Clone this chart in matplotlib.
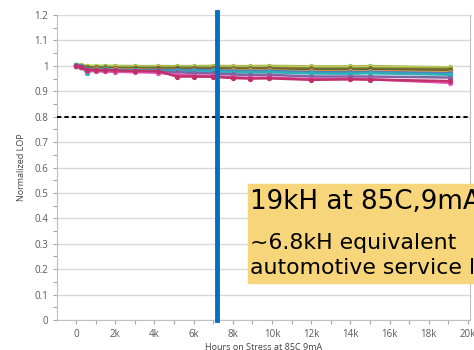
import matplotlib
matplotlib.use('Agg')
import matplotlib.pyplot as plt
from matplotlib.patches import Rectangle
from matplotlib.ticker import MultipleLocator

# hours on stress
hours = [0, 250, 550, 1000, 1500, 2000, 3000, 4200, 5150, 6000, 7000, 8000, 8900, 9850, 12000, 14000, 15000, 19100]

# normalized LOP per device
lop_olive  = [1.005, 1.003, 1.000, 1.000, 1.000, 1.000, 0.999, 0.999, 0.999, 0.999, 1.000, 0.999, 0.999, 1.000, 0.998, 0.998, 0.999, 0.994]
lop_yellow = [1.004, 1.002, 0.999, 0.998, 0.997, 0.997, 0.996, 0.996, 0.996, 0.996, 0.996, 0.996, 0.996, 0.996, 0.995, 0.995, 0.995, 0.993]
lop_green  = [1.003, 1.000, 0.996, 0.994, 0.994, 0.993, 0.993, 0.993, 0.993, 0.993, 0.993, 0.992, 0.992, 0.992, 0.990, 0.990, 0.990, 0.988]
lop_brown  = [1.002, 0.999, 0.993, 0.992, 0.991, 0.991, 0.990, 0.990, 0.990, 0.990, 0.990, 0.989, 0.989, 0.990, 0.986, 0.986, 0.987, 0.985]
lop_dkgrn  = [1.002, 0.998, 0.990, 0.989, 0.988, 0.988, 0.987, 0.987, 0.986, 0.985, 0.985, 0.984, 0.984, 0.985, 0.981, 0.981, 0.982, 0.979]
lop_orange = [1.001, 0.997, 0.988, 0.987, 0.986, 0.986, 0.985, 0.984, 0.984, 0.983, 0.983, 0.982, 0.982, 0.982, 0.978, 0.978, 0.979, 0.975]
lop_blue   = [1.001, 0.996, 0.986, 0.985, 0.985, 0.984, 0.983, 0.983, 0.983, 0.983, 0.983, 0.980, 0.979, 0.980, 0.975, 0.975, 0.976, 0.971]
lop_teal   = [1.003, 0.998, 0.973, 0.985, 0.986, 0.985, 0.982, 0.980, 0.979, 0.978, 0.978, 0.975, 0.974, 0.975, 0.970, 0.969, 0.971, 0.965]
lop_purple = [1.000, 0.995, 0.982, 0.980, 0.980, 0.979, 0.978, 0.977, 0.975, 0.972, 0.970, 0.966, 0.964, 0.965, 0.958, 0.958, 0.958, 0.954]
lop_red    = [1.000, 0.996, 0.985, 0.983, 0.983, 0.982, 0.980, 0.979, 0.958, 0.958, 0.957, 0.952, 0.950, 0.951, 0.945, 0.947, 0.946, 0.940]
lop_pink   = [1.000, 0.995, 0.981, 0.979, 0.978, 0.977, 0.975, 0.973, 0.965, 0.962, 0.960, 0.955, 0.953, 0.954, 0.948, 0.949, 0.947, 0.933]

series = [
    (lop_olive, '#A3B84E'), (lop_yellow, '#C9CE5A'), (lop_green, '#77933C'),
    (lop_brown, '#7F6A3A'), (lop_dkgrn, '#4F6228'), (lop_orange, '#F2A046'),
    (lop_blue, '#4F81BD'), (lop_teal, '#2FB0B8'), (lop_purple, '#8064A2'),
    (lop_pink, '#E254B2'), (lop_red, '#C0306A'),
]

stress_end = 7200
limit = 0.8

yticks = [0, 0.1, 0.2, 0.3, 0.4, 0.5, 0.6, 0.7, 0.8, 0.9, 1.0, 1.1, 1.2]
ylabels = ['0', '0.1', '0.2', '0.3', '0.4', '0.5', '0.6', '0.7', '0.8', '0.9', '1', '1.1', '1.2']
xticks = [0, 2000, 4000, 6000, 8000, 10000, 12000, 14000, 16000, 18000, 20000]
xlabels = ['0', '2k', '4k', '6k', '8k', '10k', '12k', '14k', '16k', '18k', '20k']

plt.rcParams['font.family'] = ['Open Sans', 'DejaVu Sans']

fig = plt.figure(figsize=(4.74, 3.5), dpi=100)
ax = fig.add_axes([0.121, 0.0857, 0.8706, 0.8714])

for vals, c in series:
    ax.plot(hours, vals, color=c, lw=1.8, marker='o', ms=2.8, zorder=3)

ax.axhline(limit, color='black', lw=1.4, ls=(0, (2.2, 1.6)), zorder=4)
ax.plot([stress_end, stress_end], [0, 1.21], color='#0070C0', lw=3.5, zorder=5, clip_on=False)

ax.set_xlim(-950, 20100)
ax.set_ylim(0, 1.2)
ax.set_yticks(yticks)
ax.set_yticklabels(ylabels)
ax.set_xticks(xticks)
ax.set_xticklabels(xlabels)
ax.yaxis.set_minor_locator(MultipleLocator(0.05))
ax.xaxis.set_minor_locator(MultipleLocator(1000))
ax.grid(axis='y', color='#D9D9D9', lw=1)
ax.set_axisbelow(True)
ax.tick_params(which='both', colors='#A6A6A6', labelcolor='#595959', labelsize=7, length=3, width=0.8)
for s in ['left', 'bottom', 'right']:
    ax.spines[s].set_color('#BFBFBF')
ax.spines['top'].set_visible(False)

ax.set_ylabel('Normalized LOP', fontsize=6.5, color='#404040', labelpad=6)
ax.set_xlabel('Hours on Stress at 85C 9mA', fontsize=6.5, color='#404040', labelpad=2)

# note box
fig.patches.append(Rectangle((248 / 474, 1 - 283 / 350), 0.5, 99 / 350,
                             transform=fig.transFigure, color='#F7D57A', zorder=6))
fig.text(250 / 474, 1 - 209 / 350, '19kH at 85C,9mA', fontsize=18.8,
         family='DejaVu Sans', color='black', zorder=7)
fig.text(250 / 474, 1 - 249 / 350, '~6.8kH equivalent', fontsize=15.8,
         family='DejaVu Sans', color='black', zorder=7)
fig.text(250 / 474, 1 - 274 / 350, 'automotive service life', fontsize=15.8,
         family='DejaVu Sans', color='black', zorder=7)

fig.savefig('out.png', dpi=100)
